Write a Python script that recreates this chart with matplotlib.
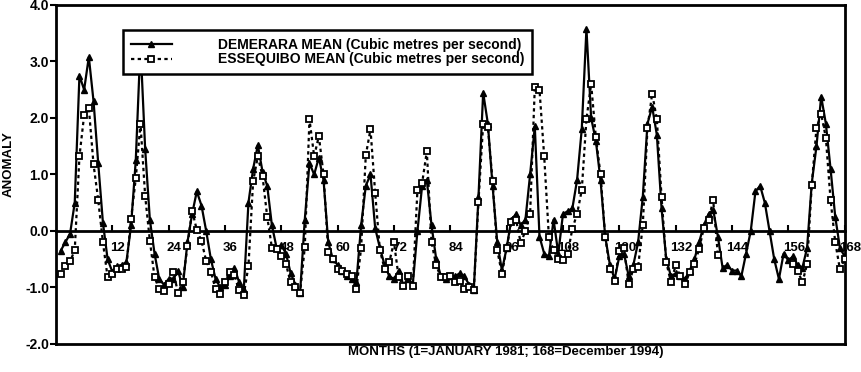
import numpy as np
import matplotlib
matplotlib.use("Agg")
from matplotlib import pyplot as plt
from matplotlib.transforms import ScaledTranslation

plt.rcParams['font.family'] = ['Liberation Sans', 'DejaVu Sans']
plt.rcParams['font.weight'] = 'bold'

# monthly anomalies, Jan 1981 .. Dec 1994
demerara = [
    -0.35, -0.2, -0.05, 0.5, 2.75, 2.5, 3.08, 2.3, 1.2, 0.15, -0.5, -0.72,
    -0.62, -0.6, -0.55, 0.1, 1.25, 3.3, 1.45, 0.2, -0.4, -0.85, -0.95, -0.85,
    -0.85, -0.7, -1.0, -0.2, 0.3, 0.7, 0.45, 0.0, -0.5, -0.85, -1.0, -0.95,
    -0.8, -0.65, -0.9, -1.05, 0.5, 1.1, 1.52, 1.05, 0.8, 0.1, -0.3, -0.25,
    -0.4, -0.75, -0.95, -1.1, 0.2, 1.2, 1.0, 1.3, 0.9, -0.2, -0.5, -0.6,
    -0.7, -0.8, -0.85, -0.9, 0.1, 0.8, 1.0, 0.05, -0.3, -0.6, -0.8, -0.85,
    -0.7, -0.95, -0.85, -0.95, 0.0, 0.8, 0.9, 0.1, -0.5, -0.8, -0.85, -0.8,
    -0.8, -0.75, -0.8, -0.95, -1.05, 0.6, 2.45, 1.9, 0.8, -0.2, -0.7, -0.3,
    0.2, 0.3, 0.1, 0.2, 1.0, 1.85, -0.1, -0.4, -0.45, 0.2, -0.4, 0.3,
    0.35, 0.4, 0.9, 1.8, 3.58, 2.0, 1.6, 0.9, -0.1, -0.6, -0.85, -0.45,
    -0.4, -0.8, -0.6, -0.2, 0.6, 1.9, 2.2, 1.7, 0.4, -0.5, -0.8, -0.75,
    -0.8, -0.85, -0.7, -0.5, -0.2, 0.1, 0.3, 0.38, -0.1, -0.65, -0.6, -0.7,
    -0.7, -0.8, -0.4, 0.0, 0.7, 0.8, 0.5, 0.0, -0.5, -0.85, -0.4, -0.52,
    -0.45, -0.6, -0.65, -0.3, 0.85, 1.5, 2.38, 1.9, 1.1, 0.25, -0.3, -0.45,
]

nan = np.nan
essequibo = [
    -0.76, -0.62, -0.54, -0.34, 1.32, 2.05, 2.18, 1.18, 0.55, -0.2, -0.82, -0.77,
    -0.67, -0.67, -0.63, 0.22, 0.93, 1.9, 0.62, -0.17, -0.82, -1.03, -1.06, -0.94,
    -0.73, -1.09, -0.91, -0.27, 0.36, 0.02, -0.18, -0.53, -0.72, -1.03, -1.12, -0.9,
    -0.73, -0.78, -1.05, -1.13, -0.62, 0.88, 1.32, 0.97, 0.25, -0.3, -0.32, -0.45,
    -0.59, -0.91, -1.0, -1.09, -0.29, 1.98, 1.32, 1.68, 1.0, -0.37, -0.5, -0.67,
    -0.7, -0.76, -0.79, -1.03, -0.3, 1.34, 1.8, 0.67, -0.34, -0.67, -0.55, -0.2,
    -0.82, -0.97, -0.79, -0.98, 0.73, 0.85, 1.41, -0.2, -0.61, -0.82, -0.82, -0.79,
    -0.91, -0.88, -1.03, -1.0, -1.05, 0.52, 1.9, 1.84, 0.89, -0.34, -0.76, -0.3,
    0.16, 0.2, -0.21, 0.0, 0.3, 2.55, 2.5, 1.32, -0.1, -0.34, -0.5, -0.52,
    -0.4, 0.04, 0.3, 0.72, 1.98, 2.6, 1.66, 1.0, -0.1, -0.67, -0.88, -0.35,
    -0.3, -0.94, -0.67, -0.64, 0.1, 1.82, 2.43, 1.98, 0.6, -0.55, -0.91, -0.61,
    -0.8, -0.94, -0.73, -0.59, -0.32, 0.05, 0.2, 0.54, -0.43, nan, nan, nan,
    nan, nan, nan, nan, nan, nan, nan, nan, nan, nan, nan, nan,
    -0.59, -0.7, -0.91, -0.59, 0.82, 1.82, 2.07, 1.65, 0.55, -0.2, -0.68, -0.5,
]

months = np.arange(1, len(demerara) + 1)
month_ticks = np.arange(12, 169, 12)
y_ticks = np.arange(-2, 5, 1)

fig = plt.figure(figsize=(8.61, 3.72), dpi=100)
ax = fig.add_axes([0.065, 0.0753, 0.916, 0.9113])

ax.plot(months, demerara, color='black', lw=1.6, marker='^', ms=4,
        label='DEMERARA MEAN (Cubic metres per second)', zorder=3)
ax.plot(months, essequibo, color='black', lw=1.6, ls=(0, (1.5, 1.5)), marker='s', ms=5,
        mfc='white', mew=1.3, label='ESSEQUIBO MEAN (Cubic metres per second)', zorder=4)

ax.set_xlim(0, 168)
ax.set_ylim(-2, 4)
ax.set_yticks(y_ticks)
ax.set_yticklabels([f"{v:.1f}" for v in y_ticks], fontsize=10, fontweight='bold')
ax.tick_params(axis='y', direction='out', length=4, width=1.5, pad=1)
ax.set_xticks([])
for s in ax.spines.values():
    s.set_linewidth(2)

# zero line carrying the month ticks
sec = ax.secondary_xaxis(1 / 3)
sec.spines['bottom'].set_linewidth(2)
sec.set_xticks(month_ticks)
sec.set_xticklabels([str(m) for m in month_ticks], fontsize=9.5, fontweight='bold')
sec.tick_params(direction='in', length=4, width=1.5, pad=8)
shift = ScaledTranslation(4 / 72, 0, fig.dpi_scale_trans)
for lab in sec.get_xticklabels():
    lab.set_transform(lab.get_transform() + shift)

ax.set_ylabel('ANOMALY', fontsize=9.5, fontweight='bold')
ax.yaxis.set_label_coords(-0.052, 0.53)
ax.set_xlabel('MONTHS (1=JANUARY 1981; 168=December 1994)', fontsize=9.5, fontweight='bold')
ax.xaxis.set_label_coords(0.57, -0.005)
ax.xaxis.label.set_va('top')

leg = ax.legend(loc='upper left', bbox_to_anchor=(0.085, 0.926), borderaxespad=0,
                numpoints=1, handlelength=3.0, handletextpad=3.3, fancybox=False,
                framealpha=1, prop={'size': 10, 'weight': 'bold'},
                borderpad=0.55, labelspacing=0.05)
leg.get_frame().set_edgecolor('black')
leg.get_frame().set_linewidth(1.8)
leg.set_zorder(5)

fig.savefig('out.png', dpi=100)
